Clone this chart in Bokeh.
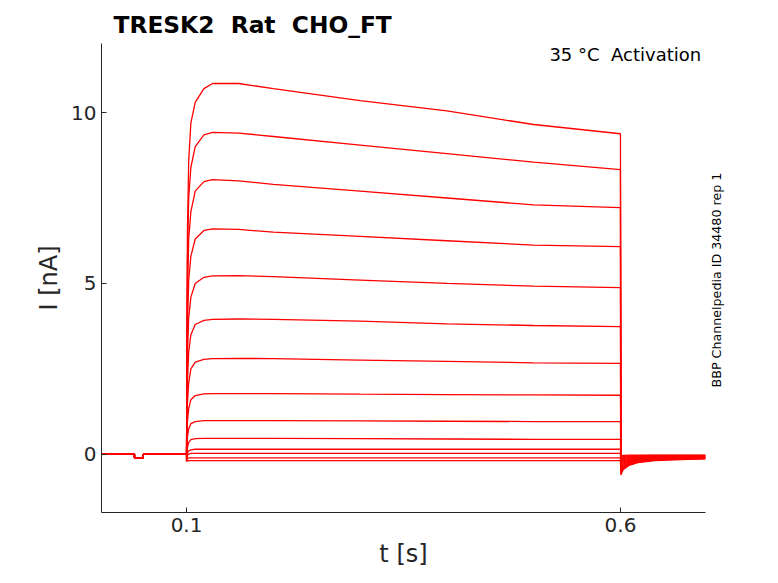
import numpy as np
from bokeh.plotting import figure
from bokeh.layouts import row
from bokeh.models import Label, Range1d, FixedTicker
from bokeh.embed import file_html
from bokeh.resources import INLINE

# pre-pulse baseline (shared)
pre_t = [0.002, 0.040, 0.040, 0.050, 0.050, 0.1]
pre_i = [0.0, 0.0, -0.1, -0.1, 0.0, 0.0]

# pulse knots
pulse_t = [0.1, 0.1003, 0.101, 0.1025, 0.105, 0.11, 0.12, 0.13, 0.16, 0.2, 0.3, 0.4, 0.5, 0.6]
traces = [
    [0.0, 3.0, 6.5, 8.6, 9.7, 10.3, 10.7, 10.85, 10.85, 10.7, 10.35, 10.05, 9.65, 9.38],
    [0.0, 2.5, 5.6, 7.5, 8.4, 9.0, 9.35, 9.42, 9.4, 9.3, 9.05, 8.8, 8.55, 8.33],
    [0.0, 2.0, 4.6, 6.3, 7.1, 7.7, 7.98, 8.04, 8.0, 7.9, 7.7, 7.5, 7.3, 7.22],
    [0.0, 1.6, 3.7, 5.1, 5.8, 6.3, 6.55, 6.6, 6.58, 6.5, 6.38, 6.25, 6.12, 6.08],
    [0.0, 1.2, 2.9, 4.0, 4.6, 5.0, 5.18, 5.22, 5.23, 5.2, 5.1, 5.0, 4.92, 4.88],
    [0.0, 0.9, 2.1, 3.0, 3.5, 3.8, 3.92, 3.95, 3.96, 3.95, 3.9, 3.82, 3.77, 3.74],
    [0.0, 0.6, 1.5, 2.1, 2.5, 2.7, 2.78, 2.8, 2.81, 2.8, 2.76, 2.72, 2.68, 2.66],
    [0.0, 0.4, 0.95, 1.35, 1.6, 1.72, 1.77, 1.78, 1.78, 1.78, 1.76, 1.75, 1.74, 1.73],
    [0.0, 0.2, 0.5, 0.75, 0.9, 0.96, 0.99, 0.99, 0.99, 0.99, 0.98, 0.97, 0.96, 0.96],
    [-0.1, 0.05, 0.2, 0.35, 0.43, 0.46, 0.47, 0.47, 0.47, 0.47, 0.46, 0.45, 0.44, 0.44],
    [-0.15, -0.05, 0.04, 0.1, 0.13, 0.15, 0.15, 0.15, 0.15, 0.15, 0.15, 0.15, 0.15, 0.15],
    [-0.2, -0.1, -0.03, 0.01, 0.03, 0.03, 0.03, 0.03, 0.03, 0.03, 0.03, 0.03, 0.03, 0.03],
    [-0.2, -0.15, -0.12, -0.1, -0.1, -0.1, -0.1, -0.1, -0.1, -0.1, -0.1, -0.1, -0.1, -0.1],
    [-0.2, -0.2, -0.19, -0.18, -0.18, -0.18, -0.18, -0.18, -0.18, -0.18, -0.18, -0.18, -0.18, -0.18],
]
# tail after pulse end (shared shape, spread per trace)
tail_t = [0.6005, 0.603, 0.61, 0.62, 0.64, 0.67, 0.698]
tail_lo = [-0.6, -0.45, -0.32, -0.24, -0.18, -0.15, -0.13]
tail_hi = [-0.05, -0.03, -0.02, -0.02, -0.02, -0.02, -0.02]

p = figure(width=710, height=575, output_backend="svg", toolbar_location=None,
           x_range=Range1d(0.002, 0.698), y_range=Range1d(-1.7, 12.02),
           min_border_left=101, min_border_right=5, min_border_top=43, min_border_bottom=63)
p.title.text = "TRESK2\u00a0\u00a0Rat\u00a0\u00a0CHO_FT"
p.title.text_font = "DejaVu Sans"
p.title.text_font_size = "17.5pt"
p.title.text_color = "black"
p.title.offset = 12
p.outline_line_color = None
p.grid.visible = False

n = len(traces)
for k, tr in enumerate(traces):
    f = k / (n - 1)
    tail = [lo * f + hi * (1 - f) for lo, hi in zip(tail_lo, tail_hi)]
    xs = pre_t + pulse_t + tail_t
    ys = pre_i + tr + tail
    p.line(xs, ys, line_color="red", line_width=1.3)

p.xaxis.ticker = FixedTicker(ticks=[0.1, 0.6])
p.yaxis.ticker = FixedTicker(ticks=[0, 5, 10])
p.xaxis.axis_label = "t [s]"
p.yaxis.axis_label = "I [nA]"
for ax in (p.xaxis, p.yaxis):
    ax.axis_label_text_font = "DejaVu Sans"
    ax.axis_label_text_font_style = "normal"
    ax.axis_label_text_font_size = "18pt"
    ax.major_label_text_font = "DejaVu Sans"
    ax.major_label_text_font_size = "15pt"
    ax.major_label_text_color = "#262626"
    ax.axis_label_text_color = "#262626"
    ax.axis_line_color = "#262626"
    ax.major_tick_in = 5
    ax.major_tick_out = 0
    ax.minor_tick_line_color = None
    ax.major_tick_line_color = "#262626"

p.add_layout(Label(x=0.693, y=12.02, text="35 °C\u00a0\u00a0Activation", text_align="right",
                   text_baseline="top", text_font="DejaVu Sans", text_font_size="13.5pt",
                   text_color="black"))

p2 = figure(width=50, height=575, output_backend="svg", toolbar_location=None,
            x_range=Range1d(0, 50), y_range=Range1d(-1.7, 12.02),
            min_border_left=0, min_border_right=0, min_border_top=43, min_border_bottom=63)
p2.axis.visible = False
p2.grid.visible = False
p2.outline_line_color = None
p2.add_layout(Label(x=6, y=5.1, text="BBP Channelpedia ID 34480 rep 1", angle=np.pi / 2,
                    text_align="center", text_baseline="middle", text_font="DejaVu Sans",
                    text_font_size="9.5pt", text_color="black"))

open("out.html", "w").write(file_html(row(p, p2), INLINE))
